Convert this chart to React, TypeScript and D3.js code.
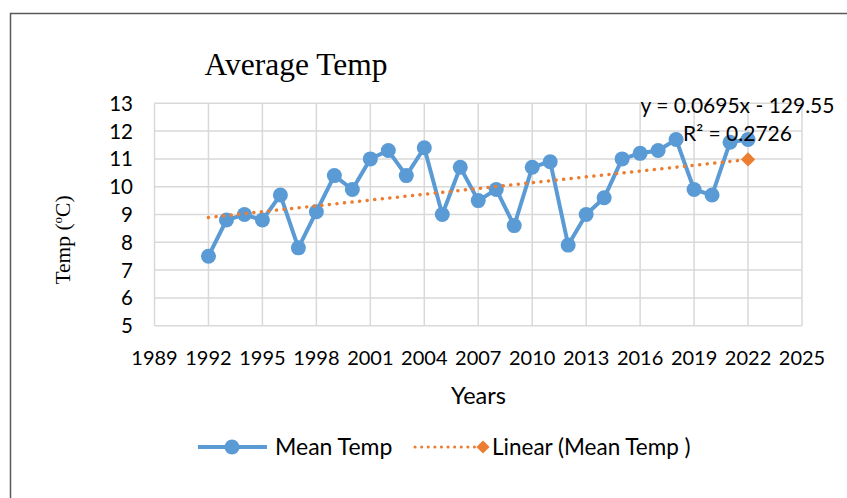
import React from "react";
import * as d3 from "d3";

const years = [1992,1993,1994,1995,1996,1997,1998,1999,2000,2001,2002,2003,2004,2005,2006,2007,2008,2009,2010,2011,2012,2013,2014,2015,2016,2017,2018,2019,2020,2021,2022];
const meanTemp = [7.5,8.8,9.0,8.8,9.7,7.8,9.1,10.4,9.9,11.0,11.3,10.4,11.4,9.0,10.7,9.5,9.9,8.6,10.7,10.9,7.9,9.0,9.6,11.0,11.2,11.3,11.7,9.9,9.7,11.6,11.7];
const xTicks = [1989,1992,1995,1998,2001,2004,2007,2010,2013,2016,2019,2022,2025];
const yTicks = [5,6,7,8,9,10,11,12,13];
const trendSlope = 0.0695;
const trendIntercept = -129.55;
const equationLines = ["y = 0.0695x - 129.55", "R² = 0.2726"];
const titleText = "Average Temp";
const xAxisTitle = "Years";
const legendLabels = ["Mean Temp", "Linear (Mean Temp )"];

const W = 847, H = 498;
const BLUE = "#5B9BD5";
const ORANGE = "#ED7D31";
const GRID = "#D9D9D9";
const SANS = "Lato, 'Open Sans', sans-serif";
const SERIF = "'Liberation Serif', 'Times New Roman', serif";

export default function App() {
  const x = d3.scaleLinear().domain([1989, 2025]).range([154.5, 802]);
  const y = d3.scaleLinear().domain([5, 13]).range([325.7, 103.3]);
  const line = d3.line<number>().x((_, i) => x(years[i])).y((d) => y(d));
  const trendX = [years[0], years[years.length - 1]];
  const trend = (t: number) => trendSlope * t + trendIntercept;
  const diamond = d3.symbol().type(d3.symbolDiamond2).size(130)();
  const legendDiamond = d3.symbol().type(d3.symbolDiamond2).size(110)();

  return (
    <svg width={W} height={H} style={{ position: "absolute", left: 0, top: 0, background: "#fff" }}>
      <rect x={0} y={0} width={W} height={H} fill="#fff" />
      {/* outer frame */}
      <path d={`M10.5,${H} L10.5,13.5 L${W},13.5`} fill="none" stroke="#595959" strokeWidth={1.5} />

      {/* title */}
      <text x={296} y={75} textAnchor="middle" fontFamily={SERIF} fontSize={31.5} fill="#000">{titleText}</text>

      {/* grid */}
      {yTicks.map((t) => (
        <line key={"gy" + t} x1={x(1989)} x2={x(2025)} y1={y(t)} y2={y(t)} stroke={GRID} strokeWidth={1.5} />
      ))}
      {xTicks.map((t) => (
        <line key={"gx" + t} x1={x(t)} x2={x(t)} y1={y(5)} y2={y(13)} stroke={GRID} strokeWidth={1.5} />
      ))}

      {/* y tick labels */}
      {yTicks.map((t) => (
        <text key={"yt" + t} x={133} y={y(t) + 7.5} textAnchor="end" fontFamily={SANS} fontSize={20.5} fill="#000">{t}</text>
      ))}
      {/* x tick labels */}
      {xTicks.map((t) => (
        <text key={"xt" + t} x={x(t)} y={364.5} textAnchor="middle" fontFamily={SANS} fontSize={20} fill="#000">{t}</text>
      ))}

      {/* axis titles */}
      <text x={478.5} y={404} textAnchor="middle" fontFamily={SANS} fontSize={23.5} fill="#000">{xAxisTitle}</text>
      <text transform="translate(70,240) rotate(-90)" textAnchor="middle" fontFamily={SERIF} fontSize={21.5} fill="#000">
        Temp (<tspan fontSize={13} dy={-8}>o</tspan><tspan dy={8}>C)</tspan>
      </text>

      {/* data line */}
      <path d={line(meanTemp) || ""} fill="none" stroke={BLUE} strokeWidth={4} strokeLinejoin="round" />
      {meanTemp.map((v, i) => (
        <circle key={"c" + i} cx={x(years[i])} cy={y(v)} r={7.5} fill={BLUE} />
      ))}

      {/* trendline */}
      <line x1={x(trendX[0])} y1={y(trend(trendX[0]))} x2={x(trendX[1])} y2={y(trend(trendX[1]))}
        stroke={ORANGE} strokeWidth={3.5} strokeDasharray="0.1 7.5" strokeLinecap="round" />
      <path d={diamond || ""} transform={`translate(${x(trendX[1])},${y(trend(trendX[1]))})`} fill={ORANGE} />

      {/* equation */}
      {equationLines.map((s, i) => (
        <text key={"eq" + i} x={737.5} y={112.5 + i * 28} textAnchor="middle" fontFamily={SANS} fontSize={21} fill="#000">{s}</text>
      ))}

      {/* legend */}
      <line x1={198} x2={267} y1={447} y2={447} stroke={BLUE} strokeWidth={4} />
      <circle cx={232} cy={447} r={7.5} fill={BLUE} />
      <text x={275} y={455} fontFamily={SANS} fontSize={23} fill="#000">{legendLabels[0]}</text>
      <line x1={415} x2={476} y1={447} y2={447} stroke={ORANGE} strokeWidth={3} strokeDasharray="0.1 6.5" strokeLinecap="round" />
      <path d={legendDiamond || ""} transform="translate(483,447)" fill={ORANGE} />
      <text x={492} y={455} fontFamily={SANS} fontSize={22.5} fill="#000">{legendLabels[1]}</text>
    </svg>
  );
}
